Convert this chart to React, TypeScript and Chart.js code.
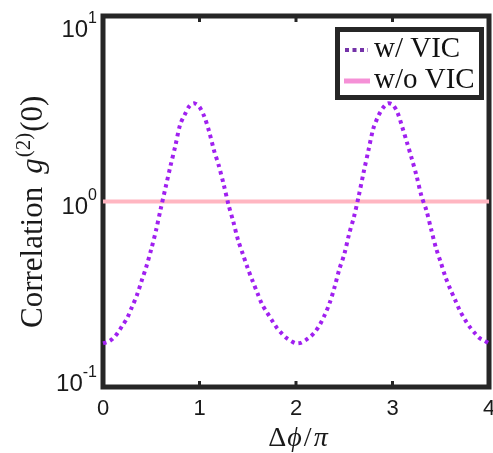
import React, { useEffect, useRef } from "react";
import { Chart, registerables } from "chart.js";

Chart.register(...registerables);

// Phase difference Δφ/π
const phase = [
  0.0, 0.05, 0.1, 0.15, 0.2, 0.25, 0.3, 0.35, 0.4, 0.45,
  0.5, 0.55, 0.6, 0.65, 0.7, 0.75, 0.8, 0.85, 0.9, 0.95,
  1.0, 1.05, 1.1, 1.15, 1.2, 1.25, 1.3, 1.35, 1.4, 1.45,
  1.5, 1.55, 1.6, 1.65, 1.7, 1.75, 1.8, 1.85, 1.9, 1.95,
  2.0, 2.05, 2.1, 2.15, 2.2, 2.25, 2.3, 2.35, 2.4, 2.45,
  2.5, 2.55, 2.6, 2.65, 2.7, 2.75, 2.8, 2.85, 2.9, 2.95,
  3.0, 3.05, 3.1, 3.15, 3.2, 3.25, 3.3, 3.35, 3.4, 3.45,
  3.5, 3.55, 3.6, 3.65, 3.7, 3.75, 3.8, 3.85, 3.9, 3.95,
  4.0,
];

// g2(0) with VIC
const g2WithVIC = [
  0.172, 0.175, 0.182, 0.195, 0.214, 0.235, 0.27, 0.311, 0.373, 0.447,
  0.553, 0.701, 0.922, 1.2, 1.56, 2.0, 2.6, 2.96, 3.29, 3.38,
  3.23, 2.87, 2.38, 1.89, 1.56, 1.24, 0.963, 0.779, 0.618, 0.519,
  0.436, 0.373, 0.321, 0.278, 0.252, 0.229, 0.209, 0.195, 0.184, 0.177,
  0.172, 0.173, 0.179, 0.187, 0.199, 0.218, 0.246, 0.285, 0.346, 0.433,
  0.519, 0.667, 0.824, 1.07, 1.43, 1.88, 2.46, 2.87, 3.19, 3.38,
  3.33, 3.03, 2.53, 2.08, 1.7, 1.37, 1.07, 0.9, 0.71, 0.563,
  0.47, 0.39, 0.336, 0.294, 0.257, 0.231, 0.211, 0.196, 0.184, 0.178,
  0.172,
];

// g2(0) without VIC
const phaseWithoutVIC = [0, 4];
const g2WithoutVIC = [1, 1];

const seriesLabels = ["w/ VIC", "w/o VIC"];
const xTicks = [0, 1, 2, 3, 4];
const yTicks = [0.1, 1, 10];
const xTitleParts = ["Δ", "ϕ", "/", "π"];
const yTitleParts = ["Correlation", "g", "(2)", "(0)"];

const SANS = '"Liberation Sans", Arial, Helvetica, sans-serif';
const SERIF = '"Liberation Serif", "DejaVu Serif", "Times New Roman", serif';
const AXIS_COLOR = "#262626";

const decorPlugin = {
  id: "decor",
  beforeDatasetsDraw(chart: any) {
    const { ctx, chartArea: a, scales } = chart;
    const xs = scales.x;
    const ys = scales.y;
    ctx.save();
    // frame
    ctx.strokeStyle = AXIS_COLOR;
    ctx.lineWidth = 5;
    ctx.strokeRect(a.left, a.top, a.right - a.left, a.bottom - a.top);
    // inner ticks
    ctx.lineWidth = 3;
    for (const t of xTicks) {
      const px = xs.getPixelForValue(t);
      ctx.beginPath();
      ctx.moveTo(px, a.bottom);
      ctx.lineTo(px, a.bottom - 6);
      ctx.moveTo(px, a.top);
      ctx.lineTo(px, a.top + 6);
      ctx.stroke();
    }
    for (const v of yTicks) {
      const py = ys.getPixelForValue(v);
      ctx.beginPath();
      ctx.moveTo(a.left, py);
      ctx.lineTo(a.left + 6, py);
      ctx.moveTo(a.right, py);
      ctx.lineTo(a.right - 6, py);
      ctx.stroke();
    }
    // x tick labels
    ctx.fillStyle = "#1a1a1a";
    ctx.font = `22px ${SANS}`;
    ctx.textAlign = "center";
    ctx.textBaseline = "alphabetic";
    for (const t of xTicks) {
      ctx.fillText(String(t), xs.getPixelForValue(t), a.bottom + 28);
    }
    // y tick labels 10^n
    ctx.textAlign = "left";
    const right = a.left - 6;
    for (const v of yTicks) {
      const e = Math.round(Math.log10(v));
      const py = ys.getPixelForValue(v);
      const base = py + 12 + 8.5 * e;
      ctx.font = `16px ${SANS}`;
      const sup = String(e);
      const wSup = ctx.measureText(sup).width;
      ctx.font = `24px ${SANS}`;
      const wMain = ctx.measureText("10").width;
      ctx.fillText("10", right - wSup - wMain, base);
      ctx.font = `16px ${SANS}`;
      ctx.fillText(sup, right - wSup, base - 14);
    }
    // x title
    {
      const fonts = [
        `28px ${SERIF}`,
        `italic 28px ${SERIF}`,
        `28px ${SERIF}`,
        `italic 28px ${SERIF}`,
      ];
      const gaps = [1, 2, 2, 0];
      let total = 0;
      const widths: number[] = [];
      xTitleParts.forEach((p, i) => {
        ctx.font = fonts[i];
        const w = ctx.measureText(p).width;
        widths.push(w);
        total += w + gaps[i];
      });
      let cx = (a.left + a.right) / 2 + 2 - total / 2;
      xTitleParts.forEach((p, i) => {
        ctx.font = fonts[i];
        ctx.fillText(p, cx, 446);
        cx += widths[i] + gaps[i];
      });
    }
    // y title (rotated)
    {
      ctx.save();
      ctx.translate(42, 328);
      ctx.rotate(-Math.PI / 2);
      ctx.textAlign = "left";
      let cx = 0;
      ctx.font = `31px ${SERIF}`;
      ctx.fillText(yTitleParts[0], cx, 0);
      cx += ctx.measureText(yTitleParts[0]).width + 13;
      ctx.font = `italic 31px ${SERIF}`;
      ctx.fillText(yTitleParts[1], cx, 0);
      cx += ctx.measureText(yTitleParts[1]).width + 1;
      ctx.font = `21px ${SERIF}`;
      ctx.fillText(yTitleParts[2], cx, -12);
      cx += ctx.measureText(yTitleParts[2]).width + 1;
      ctx.font = `31px ${SERIF}`;
      ctx.fillText(yTitleParts[3], cx, 0);
      ctx.restore();
    }
    ctx.restore();
  },
  afterDatasetsDraw(chart: any) {
    const { ctx } = chart;
    const labels = chart.data.datasets.map((d: any) => d.label);
    ctx.save();
    // legend box
    ctx.fillStyle = "#ffffff";
    ctx.fillRect(337.5, 29.5, 144, 68);
    ctx.strokeStyle = AXIS_COLOR;
    ctx.lineWidth = 5;
    ctx.strokeRect(337.5, 29.5, 144, 68);
    // sample 1 dotted
    ctx.strokeStyle = "#7432A8";
    ctx.lineWidth = 4;
    ctx.setLineDash([4, 3.5]);
    ctx.beginPath();
    ctx.moveTo(345, 50);
    ctx.lineTo(368, 50);
    ctx.stroke();
    ctx.setLineDash([]);
    // sample 2 solid
    ctx.strokeStyle = "#F590D6";
    ctx.lineWidth = 5;
    ctx.beginPath();
    ctx.moveTo(344, 81);
    ctx.lineTo(370, 81);
    ctx.stroke();
    // text
    ctx.fillStyle = "#111111";
    ctx.font = `29px ${SERIF}`;
    ctx.textAlign = "left";
    ctx.textBaseline = "alphabetic";
    ctx.fillText(labels[0], 374, 57);
    ctx.fillText(labels[1], 374, 88);
    ctx.restore();
  },
};

export default function App() {
  const ref = useRef<HTMLCanvasElement | null>(null);
  useEffect(() => {
    document.body.style.margin = "0";
    const canvas = ref.current;
    if (!canvas) return;
    const chart = new Chart(canvas, {
      type: "line",
      data: {
        datasets: [
          {
            label: seriesLabels[0],
            data: phase.map((x, i) => ({ x, y: g2WithVIC[i] })),
            borderColor: "#A020F0",
            borderWidth: 4,
            borderDash: [3.5, 4],
            borderCapStyle: "butt",
            pointRadius: 0,
            tension: 0.3,
            fill: false,
            clip: false as any,
          },
          {
            label: seriesLabels[1],
            data: phaseWithoutVIC.map((x, i) => ({ x, y: g2WithoutVIC[i] })),
            borderColor: "#FFB6C1",
            borderWidth: 4,
            pointRadius: 0,
            fill: false,
            clip: false as any,
          },
        ],
      },
      options: {
        responsive: false,
        animation: false,
        devicePixelRatio: 1,
        layout: { padding: { left: 103, right: 4, top: 16, bottom: 66 } },
        plugins: { legend: { display: false }, tooltip: { enabled: false } },
        scales: {
          x: { type: "linear", min: 0, max: 4, display: false },
          y: { type: "logarithmic", min: 0.1, max: 10, display: false },
        },
      },
      plugins: [decorPlugin],
    });
    return () => chart.destroy();
  }, []);
  return (
    <div style={{ position: "fixed", left: 0, top: 0, width: 493, height: 453, background: "#fff" }}>
      <canvas ref={ref} width={493} height={453} style={{ display: "block" }} />
    </div>
  );
}
